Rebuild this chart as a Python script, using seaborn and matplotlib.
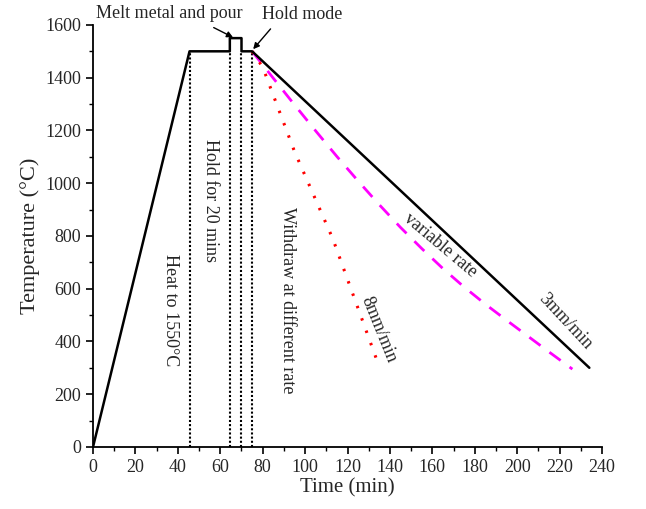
import matplotlib
matplotlib.use("Agg")
import matplotlib.pyplot as plt
import seaborn as sns
import pandas as pd

# ---- data ----
main_time = [0, 45.5, 64.5, 64.5, 70, 70, 75, 234]
main_temp = [0, 1500, 1500, 1550, 1550, 1500, 1500, 300]

var_time = [75, 85, 95, 105, 115, 125, 135, 145, 155, 165, 175, 185, 195, 205, 215, 226]
var_temp = [1500, 1398, 1297, 1198, 1101, 1008, 918, 832, 752, 676, 606, 541, 480, 420, 360, 295]

fast_time = [75, 80, 95, 113, 134]
fast_temp = [1500, 1440, 1120, 790, 325]

vline_times = [45.5, 64.5, 70, 75]
vline_top = 1500

sns.set_style("ticks")
plt.rcParams['font.family'] = ['Liberation Serif', 'DejaVu Serif']

fig = plt.figure(figsize=(6.46, 5.09), dpi=100)
ax = fig.add_axes([0.144, 0.122, 0.788, 0.829])

for t in vline_times:
    ax.plot([t, t], [0, vline_top], color='black', linestyle=(0, (1, 1)), linewidth=1.5, zorder=1)

df_main = pd.DataFrame({"t": main_time, "T": main_temp})
df_var = pd.DataFrame({"t": var_time, "T": var_temp})
df_fast = pd.DataFrame({"t": fast_time, "T": fast_temp})

sns.lineplot(data=df_main, x="t", y="T", sort=False, estimator=None, color='black', linewidth=1.8, ax=ax, zorder=3)
sns.lineplot(data=df_var, x="t", y="T", sort=False, estimator=None, color='#ff00ff', linewidth=2.0,
             linestyle=(0, (5, 4)), ax=ax, zorder=2)
sns.lineplot(data=df_fast, x="t", y="T", sort=False, estimator=None, color='#ff0000', linewidth=2.2,
             linestyle=(0, (0.8, 3.5)), ax=ax, zorder=2)

ax.set_xlim(0, 240)
ax.set_ylim(0, 1600)
ax.set_xticks(range(0, 241, 20))
ax.set_yticks(range(0, 1601, 200))
ax.set_xticks(range(0, 241, 10), minor=True)
ax.set_yticks(range(0, 1601, 100), minor=True)
ax.tick_params(axis='both', which='major', direction='out', length=5, width=1.2, labelsize=13, color='black')
ax.tick_params(axis='both', which='minor', direction='out', length=3, width=1.0, color='black')
for s in ['top', 'right']:
    ax.spines[s].set_visible(False)
for s in ['left', 'bottom']:
    ax.spines[s].set_linewidth(1.3)
    ax.spines[s].set_color('black')

ax.set_xlabel("Time (min)", fontsize=15, labelpad=2)
ax.set_ylabel("Temperature (\u00b0C)", fontsize=16, labelpad=4)

fs = 13
ax.text(36.4, 520, "Heat to 1550\u00b0C", rotation=-90, ha='center', va='center', fontsize=fs)
ax.text(55.6, 936, "Hold for 20 mins", rotation=-90, ha='center', va='center', fontsize=fs)
ax.text(91.5, 557, "Withdraw at different rate", rotation=-90, ha='center', va='center', fontsize=fs)
ax.text(134.6, 444, "8mm/min", rotation=-68, ha='center', va='center', fontsize=fs, rotation_mode='anchor')
ax.text(163.8, 766, "variable rate", rotation=-40, ha='center', va='center', fontsize=fs, rotation_mode='anchor')
ax.text(222.8, 474, "3mm/min", rotation=-47, ha='center', va='center', fontsize=fs, rotation_mode='anchor')

ax.text(35.9, 1645, "Melt metal and pour", ha='center', va='center', fontsize=fs, clip_on=False)
ax.text(98.4, 1640, "Hold mode", ha='center', va='center', fontsize=fs, clip_on=False)
ax.annotate("", xy=(66.0, 1553), xytext=(56.9, 1590), annotation_clip=False,
            arrowprops=dict(arrowstyle='-|>', color='black', lw=1.0, mutation_scale=9,
                            shrinkA=0, shrinkB=0))
ax.annotate("", xy=(75.5, 1508), xytext=(83.7, 1585), annotation_clip=False,
            arrowprops=dict(arrowstyle='-|>', color='black', lw=1.0, mutation_scale=9,
                            shrinkA=0, shrinkB=0))

fig.savefig("out.png", dpi=100)
